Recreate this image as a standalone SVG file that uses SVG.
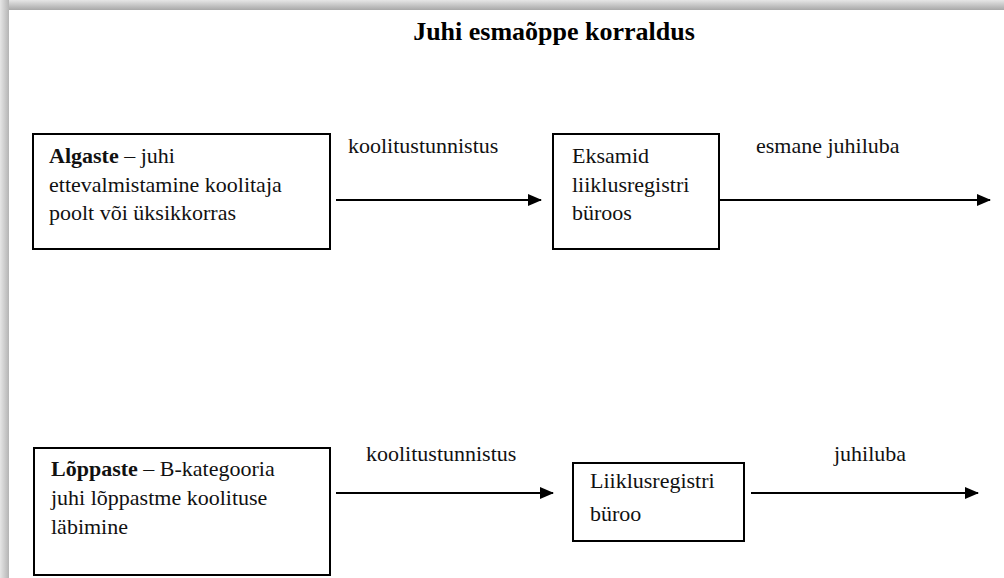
<svg xmlns="http://www.w3.org/2000/svg" width="1004" height="578" viewBox="0 0 1004 578">
<defs>
<linearGradient id="shTop" x1="0" y1="0" x2="0" y2="1">
<stop offset="0" stop-color="#e6e6e6"/><stop offset="1" stop-color="#a8a8a8"/>
</linearGradient>
<linearGradient id="shLeft" x1="0" y1="0" x2="1" y2="0">
<stop offset="0" stop-color="#e6e6e6"/><stop offset="1" stop-color="#b4b4b4"/>
</linearGradient>
<marker id="arr" markerWidth="14" markerHeight="12" refX="13" refY="6" orient="auto" markerUnits="userSpaceOnUse">
<path d="M0,0 L14,6 L0,12 Z" fill="#000"/>
</marker>
<style>
.box{fill:#fff;stroke:#000;stroke-width:2}
.t{font-family:"Liberation Serif","Times New Roman",serif;font-size:22px;fill:#111}
.b{font-weight:bold}
.title{font-family:"Liberation Serif","Times New Roman",serif;font-size:26px;font-weight:bold;fill:#000}
.edge{stroke:#000;stroke-width:2;fill:none;marker-end:url(#arr)}
</style>
</defs>
<rect x="0" y="0" width="1004" height="578" fill="#fff"/>
<rect x="0" y="0" width="1004" height="10" fill="url(#shTop)"/>
<rect x="0" y="0" width="9" height="578" fill="url(#shLeft)"/>
<text class="title" x="554" y="40" text-anchor="middle">Juhi esmaõppe korraldus</text>

<g id="connectors">
<line class="edge" x1="336" y1="200" x2="541" y2="200"/>
<line class="edge" x1="719" y1="200" x2="990" y2="200"/>
<line class="edge" x1="336" y1="493" x2="553" y2="493"/>
<line class="edge" x1="751" y1="493" x2="978" y2="493"/>
<text class="t" x="348" y="153">koolitustunnistus</text>
<text class="t" x="756" y="153">esmane juhiluba</text>
<text class="t" x="366" y="461">koolitustunnistus</text>
<text class="t" x="834" y="461">juhiluba</text>
</g>

<g id="algaste">
<rect class="box" x="33" y="134" width="297" height="115"/>
<text class="t" x="49" y="163"><tspan class="b">Algaste</tspan> – juhi</text>
<text class="t" x="49" y="192">ettevalmistamine koolitaja</text>
<text class="t" x="49" y="220">poolt või üksikkorras</text>
</g>

<g id="eksamid">
<rect class="box" x="553" y="134" width="166" height="115"/>
<text class="t" x="572" y="163">Eksamid</text>
<text class="t" x="572" y="192">liiklusregistri</text>
<text class="t" x="572" y="220">büroos</text>
</g>

<g id="loppaste">
<rect class="box" x="34" y="448" width="296" height="127"/>
<text class="t" x="51" y="476"><tspan class="b">Lõppaste</tspan> – B-kategooria</text>
<text class="t" x="51" y="505">juhi lõppastme koolituse</text>
<text class="t" x="51" y="534">läbimine</text>
</g>

<g id="buroo">
<rect class="box" x="573" y="463" width="171" height="78"/>
<text class="t" x="590" y="488">Liiklusregistri</text>
<text class="t" x="590" y="521">büroo</text>
</g>
</svg>
